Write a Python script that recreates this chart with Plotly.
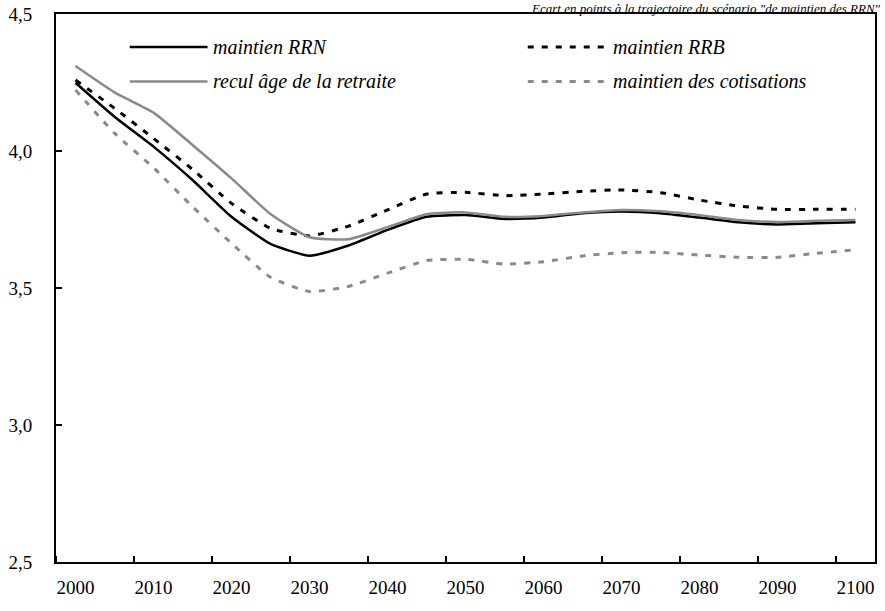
import plotly.graph_objects as go

years = list(range(2000, 2101, 5))

maintien_rrn = [4.249, 4.125, 4.016, 3.894, 3.760, 3.661, 3.618, 3.655, 3.712, 3.760, 3.766,
                3.752, 3.757, 3.773, 3.779, 3.773, 3.757, 3.740, 3.732, 3.736, 3.740]
maintien_rrb = [4.259, 4.156, 4.046, 3.933, 3.809, 3.718, 3.690, 3.726, 3.785, 3.843, 3.849,
                3.837, 3.843, 3.853, 3.858, 3.848, 3.821, 3.799, 3.787, 3.787, 3.787]
recul_age = [4.310, 4.214, 4.140, 4.022, 3.900, 3.770, 3.685, 3.678, 3.722, 3.769, 3.776,
             3.760, 3.763, 3.776, 3.785, 3.780, 3.766, 3.748, 3.741, 3.745, 3.748]
maintien_cotis = [4.223, 4.065, 3.939, 3.797, 3.663, 3.539, 3.487, 3.506, 3.554, 3.600, 3.605,
                  3.587, 3.596, 3.617, 3.629, 3.630, 3.620, 3.612, 3.612, 3.627, 3.639]

x_labels = list(range(2000, 2101, 10))
y_ticks = [2.5, 3.0, 3.5, 4.0, 4.5]

FONT = "Liberation Serif"
GREY = "#8a8a8a"

# name, values, colour, dash, width, legend column, legend row
series = [
    ("maintien RRN", maintien_rrn, "black", "solid", 2.5, 0, 0),
    ("maintien RRB", maintien_rrb, "black", "6px,8px", 3, 1, 0),
    ("recul âge de la retraite", recul_age, GREY, "solid", 2.5, 0, 1),
    ("maintien des cotisations", maintien_cotis, GREY, "6px,8px", 3, 1, 1),
]

fig = go.Figure()
for name, vals, col, dash, w, _, _ in series:
    fig.add_trace(go.Scatter(x=years, y=vals, mode="lines", name=name,
                             line=dict(color=col, dash=dash, width=w, shape="spline", smoothing=0.5),
                             showlegend=False))

# hand-made legend with long line samples, like the original
col_x = [(0.090, 0.185), (0.576, 0.674)]
row_y = [0.940, 0.877]
for name, vals, col, dash, w, c, r in series:
    x0, x1 = col_x[c]
    fig.add_shape(type="line", xref="paper", yref="paper", x0=x0, x1=x1, y0=row_y[r], y1=row_y[r],
                  line=dict(color=col, dash=dash, width=w))
    fig.add_annotation(xref="paper", yref="paper", x=x1 + 0.004, y=row_y[r], text="<i>" + name + "</i>",
                       showarrow=False, xanchor="left", yanchor="middle",
                       font=dict(family=FONT, size=20, color="black"))

fig.add_annotation(xref="paper", yref="paper", x=1.0098, y=1.0, xanchor="right", yanchor="top",
                   yshift=15,
                   text="<i>Ecart en points à la trajectoire du scénario \"de maintien des RRN\"</i>",
                   showarrow=False, font=dict(family=FONT, size=13, color="black"))

fig.update_xaxes(range=[1997.5, 2102.5], tickvals=x_labels, ticks="", showgrid=False, zeroline=False,
                 showline=True, mirror=True, linecolor="black", linewidth=2,
                 ticklabelstandoff=7, automargin=False,
                 minor=dict(tick0=2007.5, dtick=10, ticks="inside", ticklen=6, tickcolor="black",
                            tickwidth=1.5, showgrid=False),
                 tickfont=dict(family=FONT, size=19, color="black"))
fig.update_yaxes(range=[2.5, 4.5], tickvals=y_ticks, tickformat=".1f", ticks="inside", ticklen=6,
                 tickwidth=1.5, tickcolor="black", showgrid=False, zeroline=False,
                 showline=True, mirror=True, linecolor="black", linewidth=2,
                 ticklabelstandoff=18, automargin=False,
                 tickfont=dict(family=FONT, size=19, color="black"))

fig.update_layout(width=885, height=611, margin=dict(l=56, r=10, t=14, b=49),
                  plot_bgcolor="white", paper_bgcolor="white", separators=", ",
                  font=dict(family=FONT, color="black"))

# drop the default 8px page margin so the figure sits at the window's corner
fig.write_html("out.html", config={"displayModeBar": False},
               post_script="document.body.style.margin='0';")
